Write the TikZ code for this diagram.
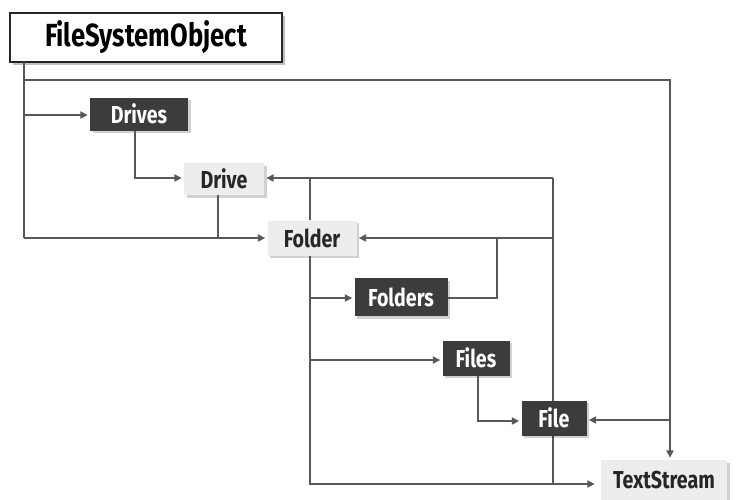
\documentclass[tikz,border=0pt]{standalone}
\usepackage{fontspec}
\setmainfont{Fira Sans}[FakeStretch=0.8]
\usetikzlibrary{arrows.meta,shadows}
\definecolor{linec}{HTML}{585858}
\definecolor{darkbox}{HTML}{3C3C3C}
\definecolor{lightbox}{HTML}{EDEDED}
\tikzset{
  conn/.style={draw=linec, line width=1.8pt, line join=miter},
  arr/.style={conn, -{Triangle[length=7.5pt,width=7pt]}, shorten >=2pt},
  boxshadow/.style={drop shadow={shadow xshift=2.5pt, shadow yshift=-2.5pt, fill=black, opacity=0.18}},
  darknode/.style={fill=darkbox, text=white, font=\bfseries\fontsize{24.5}{28}\selectfont, inner sep=0pt, boxshadow},
  lightnode/.style={fill=lightbox, text=black!85, font=\bfseries\fontsize{24.5}{28}\selectfont, inner sep=0pt, boxshadow},
}
\begin{document}
\begin{tikzpicture}[x=1pt,y=-1pt]
\useasboundingbox (0,0) rectangle (739,499);
\fill[white] (0,0) rectangle (739,499);

% nodes
\node[draw=black!85, line width=2pt, fill=white, minimum width=272pt, minimum height=49pt, inner sep=0pt,
  font=\bfseries\fontsize{32}{36}\selectfont, drop shadow={shadow xshift=3pt, shadow yshift=-3pt, fill=black, opacity=0.25}]
  (fso) at (146,37.5) {FileSystemObject};
\node[darknode, minimum width=98pt, minimum height=33pt] (drives) at (139,114) {Drives};
\node[lightnode, minimum width=80pt, minimum height=32pt] (drive) at (224,179) {Drive};
\node[lightnode, minimum width=89pt, minimum height=35pt] (folder) at (312,238) {Folder};
\node[darknode, minimum width=93pt, minimum height=38pt] (folders) at (401,297) {Folders};
\node[darknode, minimum width=67pt, minimum height=35pt] (files) at (476,358) {Files};
\node[lightnode, minimum width=126pt, minimum height=40pt] (ts) at (664,480) {TextStream};

% coordinates
\coordinate (t0) at (24,62);
\coordinate (t1) at (24,80);
\coordinate (t2) at (670,80);
\coordinate (t3) at (24,115);
\coordinate (t4) at (24,238);
\coordinate (dv1) at (135,178);
\coordinate (dv2) at (218,238);
\coordinate (r1) at (553,178);
\coordinate (r2) at (553,238);
\coordinate (r3) at (553,484);
\coordinate (f1) at (310,178);
\coordinate (f2) at (310,298);
\coordinate (f3) at (310,360);
\coordinate (f4) at (310,484);
\coordinate (fo1) at (497,298);
\coordinate (fo2) at (497,238);
\coordinate (fi1) at (478,421);
\coordinate (x1) at (670,420);

% connector behind File
\draw[conn] (r1) -- (r3);

\node[darknode, minimum width=65pt, minimum height=35pt] (file) at (554,418) {File};

\draw[conn] (t0) -- (t4);
\draw[arr] (t1) -- (t2) -- (ts.north -| t2);
\draw[arr] (t3) -- (drives.west |- t3);
\draw[arr] (t4) -- (folder.west |- t4);
\draw[arr] (drives.south -| dv1) -- (dv1) -- (drive.west |- dv1);
\draw[conn] (drive.south -| dv2) -- (dv2);
\draw[arr] (r1) -- (drive.east |- r1);
\draw[conn] (folder.north -| f1) -- (f1);
\draw[arr] (r2) -- (folder.east |- r2);
\draw[conn] (folders.east |- fo1) -- (fo1) -- (fo2);
\draw[arr, shorten >=6pt] (folder.south -| f4) -- (f4) -- (ts.west |- f4);
\draw[arr] (f2) -- (folders.west |- f2);
\draw[arr] (f3) -- (files.west |- f3);
\draw[arr] (files.south -| fi1) -- (fi1) -- (file.west |- fi1);
\draw[arr] (x1) -- (file.east |- x1);
\end{tikzpicture}
\end{document}
